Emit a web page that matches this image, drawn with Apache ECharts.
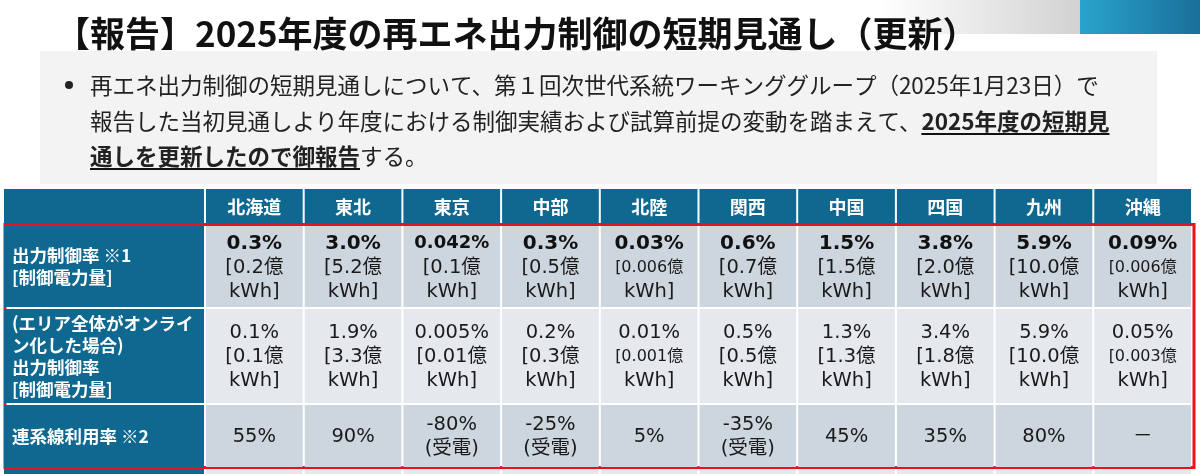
<!DOCTYPE html>
<html>
<head>
<meta charset="utf-8">
<script src="https://cdn.jsdelivr.net/npm/echarts@6/dist/echarts.min.js"></script>
<style>
    html, body { margin: 0; padding: 0; background: #fff; }
    #main { width: 1200px; height: 474px; }
</style>
</head>
<body>
<div id="main"></div>
<script>
// table data
const regions = ['北海道', '東北', '東京', '中部', '北陸', '関西', '中国', '四国', '九州', '沖縄']
const rowLabels = [
    '出力制御率 ※1\n[制御電力量]',
    '(エリア全体がオンライ\nン化した場合)\n出力制御率\n[制御電力量]',
    '連系線利用率 ※2'
]
const curtailRate = ['0.3%', '3.0%', '0.042%', '0.3%', '0.03%', '0.6%', '1.5%', '3.8%', '5.9%', '0.09%']
const curtailKwh = ['0.2', '5.2', '0.1', '0.5', '0.006', '0.7', '1.5', '2.0', '10.0', '0.006']
const onlineRate = ['0.1%', '1.9%', '0.005%', '0.2%', '0.01%', '0.5%', '1.3%', '3.4%', '5.9%', '0.05%']
const onlineKwh = ['0.1', '3.3', '0.01', '0.3', '0.001', '0.5', '1.3', '1.8', '10.0', '0.003']
const interconnUse = [55, 90, -80, -25, 5, -35, 45, 35, 80, null]

const titleText = '【報告】2025年度の再エネ出力制御の短期見通し（更新）'
const introLines = [
    [{ t: '再エネ出力制御の短期見通しについて、第１回次世代系統ワーキンググループ（2025年1月23日）で', b: false }],
    [{ t: '報告した当初見通しより年度における制御実績および試算前提の変動を踏まえて、', b: false }, { t: '2025年度の短期見', b: true }],
    [{ t: '通しを更新したので御報告', b: true }, { t: 'する。', b: false }]
]

// layout
const tableLeft = 4
const tableTop = 189
const tableHeight = 285
const labelColWidth = 200
const regionColsWidth = 987
const rowEdges = [0, 37, 120, 216, 280, 330]
const rowGap = 2

const blue = '#0e6890'
const cellBg = ['#cdd5de', '#e5e9ee', '#cdd5de', '#e5e9ee']
const cjk = '"Noto Sans CJK JP"'
const cellFont = '"DejaVu Sans", "Noto Sans CJK JP"'

const chart = echarts.init(document.getElementById('main'))

const cellBox = (api, col, row, insetL, insetR) => {
    const bandW = api.size([1, 0])[0]
    const top = api.coord([col, rowEdges[row]])
    const bottom = api.coord([col, rowEdges[row + 1]])
    return {
        x: top[0] - bandW / 2 + insetL,
        y: top[1],
        width: bandW - insetL - insetR,
        height: bottom[1] - top[1] - rowGap
    }
}

const kwhLine = (v) => (v.length >= 5 ? '{s|[' + v + '億}' : '{n|[' + v + '億}') + '\n{n|kWh]}'

const cellText = (row, col) => {
    if (row === 1) {
        const pct = curtailRate[col]
        return (pct.length >= 6 ? '{bs|' : '{b|') + pct + '}\n' + kwhLine(curtailKwh[col])
    }
    if (row === 2) return '{n|' + onlineRate[col] + '}\n' + kwhLine(onlineKwh[col])
    if (row === 3) {
        const v = interconnUse[col]
        if (v === null) return '{n|－}'
        return v < 0 ? '{n|' + v + '%}\n{n|(受電)}' : '{n|' + v + '%}'
    }
    return ''
}

const labelData = []
for (let r = 0; r < rowEdges.length - 1; r++) labelData.push([0, r])
const cellData = []
for (let r = 0; r < rowEdges.length - 1; r++) {
    regions.forEach((name, c) => cellData.push([c, r]))
}

const option = {
    animation: false,
    grid: [
        { left: tableLeft, top: tableTop, width: labelColWidth, height: tableHeight },
        { left: tableLeft + labelColWidth + 1, top: tableTop, width: regionColsWidth, height: tableHeight }
    ],
    xAxis: [
        { gridIndex: 0, type: 'category', data: ['項目'], show: false },
        { gridIndex: 1, type: 'category', data: regions, show: false }
    ],
    yAxis: [
        { gridIndex: 0, type: 'value', min: 0, max: tableHeight, inverse: true, show: false },
        { gridIndex: 1, type: 'value', min: 0, max: tableHeight, inverse: true, show: false }
    ],
    series: [
        {
            type: 'custom',
            xAxisIndex: 0,
            yAxisIndex: 0,
            data: labelData,
            renderItem: (params, api) => {
                const row = api.value(1)
                const r = cellBox(api, 0, row, 0, 0)
                const children = [{ type: 'rect', shape: r, style: { fill: blue } }]
                const label = rowLabels[row - 1]
                if (row > 0 && label) {
                    children.push({
                        type: 'text',
                        style: {
                            text: label,
                            x: r.x + 8,
                            y: r.y + r.height / 2,
                            align: 'left',
                            verticalAlign: 'middle',
                            fill: '#fff',
                            font: 'bold 17.5px ' + cjk,
                            lineHeight: 22
                        }
                    })
                }
                return { type: 'group', children }
            }
        },
        {
            type: 'custom',
            xAxisIndex: 1,
            yAxisIndex: 1,
            data: cellData,
            renderItem: (params, api) => {
                const col = api.value(0)
                const row = api.value(1)
                const r = cellBox(api, col, row, 1, 1)
                if (row === 0) {
                    return {
                        type: 'group',
                        children: [
                            { type: 'rect', shape: r, style: { fill: blue } },
                            {
                                type: 'text',
                                style: {
                                    text: regions[col],
                                    x: r.x + r.width / 2,
                                    y: r.y + r.height / 2 + 1,
                                    align: 'center',
                                    verticalAlign: 'middle',
                                    fill: '#fff',
                                    font: 'bold 18px ' + cjk
                                }
                            }
                        ]
                    }
                }
                return {
                    type: 'group',
                    children: [
                        { type: 'rect', shape: r, style: { fill: cellBg[row - 1] } },
                        {
                            type: 'text',
                            style: {
                                text: cellText(row, col),
                                x: r.x + r.width / 2,
                                y: r.y + r.height / 2 + 1,
                                align: 'center',
                                verticalAlign: 'middle',
                                fill: '#1a1a1a',
                                rich: {
                                    b: { fontFamily: cellFont, fontWeight: 'bold', fontSize: 20, lineHeight: 24, fill: '#111' },
                                    bs: { fontFamily: cellFont, fontWeight: 'bold', fontSize: 18, lineHeight: 24, fill: '#111' },
                                    n: { fontFamily: cellFont, fontSize: 19.5, lineHeight: 24, fill: '#1a1a1a' },
                                    s: { fontFamily: cellFont, fontSize: 16, lineHeight: 24, fill: '#1a1a1a' }
                                }
                            }
                        }
                    ]
                }
            }
        }
    ]
}

chart.setOption(option)

// header decoration, title and intro paragraph
const measureCtx = document.createElement('canvas').getContext('2d')
const measure = (t, f) => {
    measureCtx.font = f
    return measureCtx.measureText(t).width
}

const graphics = [
    {
        type: 'rect',
        shape: { x: 880, y: 0, width: 200, height: 34 },
        style: {
            fill: new echarts.graphic.LinearGradient(0, 0, 1, 0, [
                { offset: 0, color: '#ffffff' },
                { offset: 1, color: '#d2d2d2' }
            ])
        }
    },
    {
        type: 'rect',
        shape: { x: 1080, y: 0, width: 120, height: 34 },
        style: {
            fill: new echarts.graphic.LinearGradient(0, 0, 1, 0, [
                { offset: 0, color: '#2aa3cc' },
                { offset: 1, color: '#1a6f9a' }
            ])
        }
    },
    {
        type: 'text',
        style: {
            text: titleText,
            x: 55,
            y: 34,
            verticalAlign: 'middle',
            fill: '#111',
            font: 'bold 35px ' + cjk
        }
    },
    {
        type: 'rect',
        shape: { x: 40, y: 51, width: 1117, height: 133 },
        style: { fill: '#f3f3f3' }
    },
    {
        type: 'circle',
        shape: { cx: 69, cy: 85, r: 4 },
        style: { fill: '#222' }
    }
]

const lineY = [85, 121, 156]
introLines.forEach((segs, i) => {
    let x = 90
    segs.forEach(seg => {
        const font = (seg.b ? 'bold ' : '') + '22.5px ' + cjk
        const w = measure(seg.t, font)
        graphics.push({
            type: 'text',
            style: { text: seg.t, x, y: lineY[i], verticalAlign: 'middle', fill: '#222', font }
        })
        if (seg.b) {
            graphics.push({
                type: 'line',
                shape: { x1: x, y1: lineY[i] + 13, x2: x + w, y2: lineY[i] + 13 },
                style: { stroke: '#111', lineWidth: 2 }
            })
        }
        x += w
    })
})

// red frame round the body rows
const frameTop = chart.convertToPixel({ yAxisIndex: 1 }, rowEdges[1])
const frameBottom = chart.convertToPixel({ yAxisIndex: 1 }, rowEdges[4])
graphics.push({
    type: 'rect',
    shape: {
        x: tableLeft + 1,
        y: frameTop - 1.5,
        width: labelColWidth + regionColsWidth + 2,
        height: frameBottom - frameTop
    },
    style: { fill: 'none', stroke: '#e8141c', lineWidth: 3 }
})

chart.setOption({ graphic: graphics })
</script>
</body>
</html>
